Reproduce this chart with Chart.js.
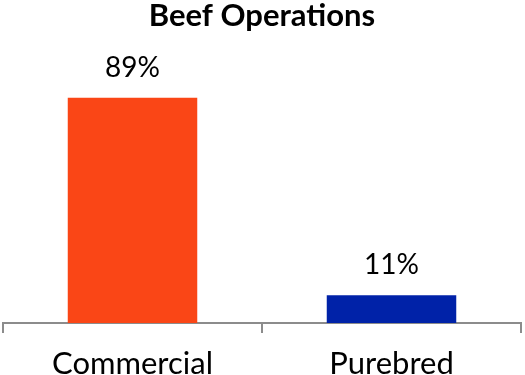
<!DOCTYPE html>
<html>
<head>
<meta charset="utf-8">
<script src="https://cdn.jsdelivr.net/npm/chart.js@4/dist/chart.umd.min.js"></script>
<style>
  html, body { margin: 0; padding: 0; background: #fff; }
  #wrap { width: 525px; height: 375px; position: relative; }
</style>
</head>
<body>
<div id="wrap"><canvas id="c"></canvas></div>
<script>
// Beef operations share by type
const CATEGORIES = ["Commercial", "Purebred"];
const SHARE = [89, 11];
const BAR_COLORS = ["#FA4616", "#0022A8"];

const FONT = "Lato, 'Open Sans', sans-serif";
const AXIS = "#8c8c8c";

// value labels above each bar
const valueLabels = {
  id: "valueLabels",
  afterDatasetsDraw(chart) {
    const ctx = chart.ctx;
    const meta = chart.getDatasetMeta(0);
    ctx.save();
    ctx.font = `28px ${FONT}`;
    ctx.fillStyle = "#000";
    ctx.textAlign = "center";
    ctx.textBaseline = "middle";
    meta.data.forEach((bar, i) => {
      ctx.fillText(SHARE[i] + "%", bar.x, bar.y - 30);
    });
    ctx.restore();
  },
};

new Chart(document.getElementById("c"), {
  type: "bar",
  data: {
    labels: CATEGORIES,
    datasets: [{ data: SHARE, backgroundColor: BAR_COLORS, barPercentage: 0.5, categoryPercentage: 1 }],
  },
  options: {
    responsive: true,
    maintainAspectRatio: false,
    animation: false,
    layout: { padding: { left: 3, right: 4, top: 0, bottom: 0 } },
    plugins: {
      legend: { display: false },
      tooltip: { enabled: false },
      title: {
        display: true,
        text: "Beef Operations",
        color: "#000",
        font: { family: FONT, size: 31, weight: "bold", lineHeight: 1 },
        padding: { top: 0, bottom: 39 },
      },
    },
    scales: {
      x: {
        afterFit(scale) { scale.height = 52; },
        grid: { offset: true, drawOnChartArea: false, color: AXIS, lineWidth: 2, tickLength: 10 },
        border: { color: AXIS, width: 2 },
        ticks: { color: "#000", font: { family: FONT, size: 31 }, padding: 12 },
      },
      y: { display: false, min: 0, max: 100 },
    },
  },
  plugins: [valueLabels],
});
</script>
</body>
</html>
